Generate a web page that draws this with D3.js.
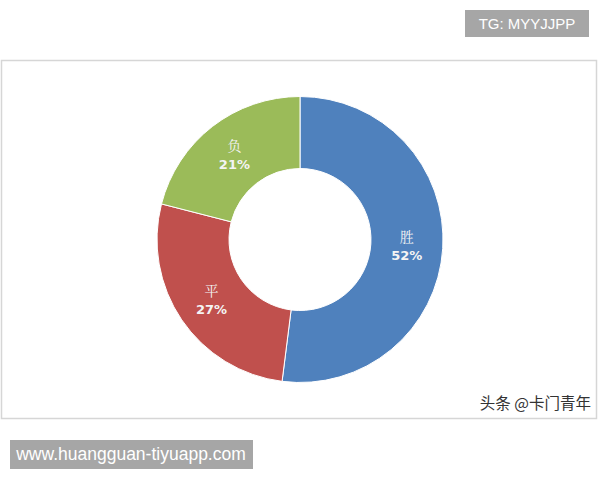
<!DOCTYPE html>
<html>
<head>
<meta charset="utf-8">
<script src="https://cdn.jsdelivr.net/npm/d3@7"></script>
<style>
  html, body { margin: 0; padding: 0; background: #fff; }
  #chart-container { width: 600px; height: 480px; }
</style>
</head>
<body>
<div id="chart-container"></div>
<script>
// --- Data ---
const categories = ["胜", "平", "负"];
const shares = [52, 27, 21];
const colors = ["#4f81bd", "#c0504d", "#9bbb59"];

// --- Configuration ---
const width = 600;
const height = 480;
const cx = 300, cy = 239.5;
const outerR = 143, innerR = 71;

const svg = d3.select("#chart-container")
    .append("svg")
    .attr("width", width)
    .attr("height", height);

// --- Chart frame ---
svg.append("rect")
    .attr("x", 1.5).attr("y", 60.5)
    .attr("width", 595).attr("height", 358)
    .attr("fill", "#fff")
    .attr("stroke", "#d6d6d6")
    .attr("stroke-width", 1.5);

// --- Donut ---
const pie = d3.pie().sort(null).value(d => d.value);
const arcs = pie(categories.map((c, i) => ({ name: c, value: shares[i], color: colors[i] })));

const arc = d3.arc().innerRadius(innerR).outerRadius(outerR);
const labelArc = d3.arc().innerRadius(107).outerRadius(107);

const g = svg.append("g").attr("transform", `translate(${cx},${cy})`);

g.selectAll("path")
    .data(arcs)
    .enter()
    .append("path")
    .attr("d", arc)
    .attr("fill", d => d.data.color)
    .attr("stroke", "#fff")
    .attr("stroke-width", 1);

const labels = g.selectAll("g.label")
    .data(arcs)
    .enter()
    .append("g")
    .attr("class", "label")
    .attr("transform", d => `translate(${labelArc.centroid(d)})`);

labels.append("text")
    .attr("y", -4)
    .attr("text-anchor", "middle")
    .attr("fill", "#f4f4f4")
    .attr("font-family", "'Noto Serif CJK SC', 'Noto Sans CJK SC', serif")
    .attr("font-size", "14px")
    .text(d => d.data.name);

labels.append("text")
    .attr("y", 14)
    .attr("text-anchor", "middle")
    .attr("fill", "#f4f4f4")
    .attr("font-family", "'DejaVu Sans', sans-serif")
    .attr("font-weight", "bold")
    .attr("font-size", "13px")
    .text(d => d.data.value + "%");

// --- Watermarks ---
svg.append("rect")
    .attr("x", 465).attr("y", 10)
    .attr("width", 124).attr("height", 27)
    .attr("fill", "#a6a6a6");
svg.append("text")
    .attr("x", 527).attr("y", 29)
    .attr("text-anchor", "middle")
    .attr("fill", "#fff")
    .attr("font-family", "'Liberation Sans', Arial, sans-serif")
    .attr("font-size", "15px")
    .text("TG: MYYJJPP");

svg.append("rect")
    .attr("x", 10).attr("y", 440)
    .attr("width", 243).attr("height", 29)
    .attr("fill", "#a6a6a6");
svg.append("text")
    .attr("x", 131).attr("y", 460)
    .attr("text-anchor", "middle")
    .attr("fill", "#fff")
    .attr("font-family", "'Liberation Sans', Arial, sans-serif")
    .attr("font-size", "17.5px")
    .text("www.huangguan-tiyuapp.com");

svg.append("text")
    .attr("x", 591).attr("y", 409)
    .attr("text-anchor", "end")
    .attr("fill", "#333")
    .attr("font-family", "'Noto Sans CJK SC', sans-serif")
    .attr("font-size", "15.5px")
    .text("头条 @卡门青年");
</script>
</body>
</html>
